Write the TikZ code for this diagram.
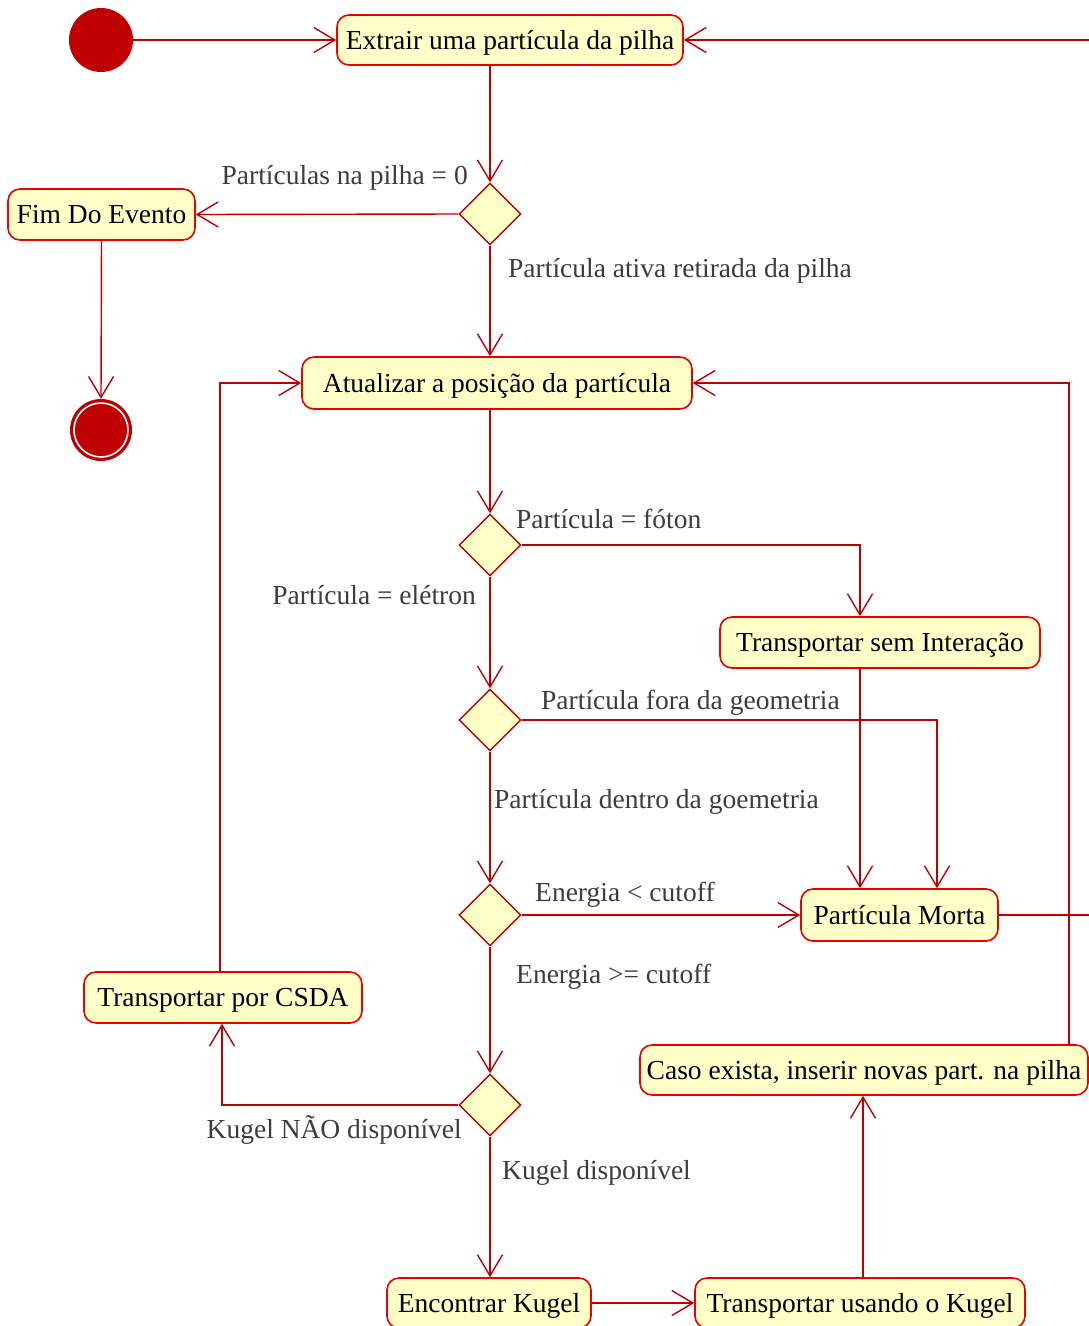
\documentclass[tikz,border=0pt]{standalone}
\usepackage{fontspec}
\setmainfont{Liberation Serif}
\usetikzlibrary{shapes.geometric,arrows.meta}
\definecolor{lnred}{RGB}{192,0,0}
\definecolor{bxred}{RGB}{235,0,0}
\definecolor{bxfill}{RGB}{255,255,200}
\definecolor{lblgray}{RGB}{60,60,60}
\tikzset{
  act/.style={draw=bxred, line width=1.6pt, fill=bxfill, rounded corners=12pt, inner sep=0pt, text height=20pt, text depth=2pt, font=\fontsize{27.5}{30}\selectfont, text=black},
  dec/.style={draw=lnred, line width=1.4pt, fill=bxfill, diamond, aspect=1, minimum width=62pt, minimum height=62pt, inner sep=0pt},
  flow/.style={draw=lnred, line width=1.4pt, -{Straight Barb[length=21pt,width=25pt,line width=1.4pt]}},
  plain/.style={draw=lnred, line width=1.4pt},
  lbl/.style={font=\fontsize{27.5}{30}\selectfont, text=lblgray, inner sep=0pt},
}
\begin{document}
\begin{tikzpicture}[x=1pt,y=-1pt]
\useasboundingbox (0,0) rectangle (1088,1326);
% nodes
\node[circle, fill=lnred, minimum size=64pt, inner sep=0pt] (start) at (101,40) {};
\node[act, minimum width=346pt, minimum height=50pt] (extr) at (510,40) {Extrair uma partícula da pilha};
\node[dec] (d1) at (490,214) {};
\node[act, minimum width=187pt, minimum height=51pt] (fim) at (101.5,214.5) {Fim Do Evento};
\node[circle, fill=lnred, minimum size=62pt, inner sep=0pt] (end) at (101,430) {};
\draw[white, line width=1.6pt] (end.center) circle (27pt);
\node[act, minimum width=390pt, minimum height=52pt] (atu) at (497,383) {Atualizar a posição da partícula};
\node[dec] (d2) at (490,545) {};
\node[act, minimum width=320pt, minimum height=51pt] (tsi) at (880,642.5) {Transportar sem Interação};
\node[dec] (d3) at (490,720) {};
\node[dec] (d4) at (490,915) {};
\node[act, minimum width=197pt, minimum height=52pt] (morta) at (899.5,915) {Partícula Morta};
\node[act, minimum width=278pt, minimum height=51pt] (csda) at (223,997.5) {Transportar por CSDA};
\node[dec] (d5) at (490,1105) {};
\node[act, minimum width=448pt, minimum height=50pt] (caso) at (864,1070) {Caso exista, inserir novas part. na pilha};
\node[act, minimum width=204pt, minimum height=50pt] (enc) at (489,1303) {Encontrar Kugel};
\node[act, minimum width=330pt, minimum height=50pt] (tuk) at (860,1303) {Transportar usando o Kugel};
% off-picture coordinates
\coordinate (outA) at (1092,40);
\coordinate (outB) at (1092,915);
% edges
\draw[flow] (start.east) -- (extr.west);
\draw[flow] (outA) -- (extr.east);
\draw[plain] (morta.east) -- (outB);
\draw[flow] (extr.south -| d1.north) -- (d1.north);
\draw[flow] (d1.west) -- (fim.east);
\draw[flow] (fim.south) -- (end.north);
\draw[flow] (d1.south) -- (atu.north -| d1.south);
\draw[flow] (atu.south -| d2.north) -- (d2.north);
\draw[flow] (d2.east) -- (860,545) -- (tsi.north -| 860,0);
\draw[flow] (d2.south) -- (d3.north);
\draw[flow] (tsi.south -| 860,0) -- (morta.north -| 860,0);
\draw[flow] (d3.east) -- (937,720) -- (morta.north -| 937,0);
\draw[flow] (d3.south) -- (d4.north);
\draw[flow] (d4.east) -- (morta.west);
\draw[flow] (d4.south) -- (d5.north);
\draw[flow] (d5.west) -- (222,1105) -- (csda.south -| 222,0);
\draw[flow] (d5.south) -- (enc.north -| d5.south);
\draw[flow] (csda.north -| 220,0) -- (220,383) -- (atu.west);
\draw[flow] (enc.east) -- (tuk.west);
\draw[flow] (tuk.north -| 863,0) -- (caso.south -| 863,0);
\draw[flow] (caso.north -| 1069,0) -- (1069,383) -- (atu.east);
% labels
\node[lbl, anchor=base east] (l1) at (468,184) {Partículas na pilha = 0};
\node[lbl, anchor=base west] (l2) at (508,277) {Partícula ativa retirada da pilha};
\node[lbl, anchor=base west] (l3) at (516,528) {Partícula = fóton};
\node[lbl, anchor=base east] (l4) at (476,604) {Partícula = elétron};
\node[lbl, anchor=base west] (l5) at (541,709) {Partícula fora da geometria};
\node[lbl, anchor=base west] (l6) at (494,808) {Partícula dentro da goemetria};
\node[lbl, anchor=base west] (l7) at (535,901) {Energia < cutoff};
\node[lbl, anchor=base west] (l8) at (516,983) {Energia >= cutoff};
\node[lbl, anchor=base east] (l9) at (462,1138) {Kugel NÃO disponível};
\node[lbl, anchor=base west] (l10) at (502,1179) {Kugel disponível};
\end{tikzpicture}
\end{document}
